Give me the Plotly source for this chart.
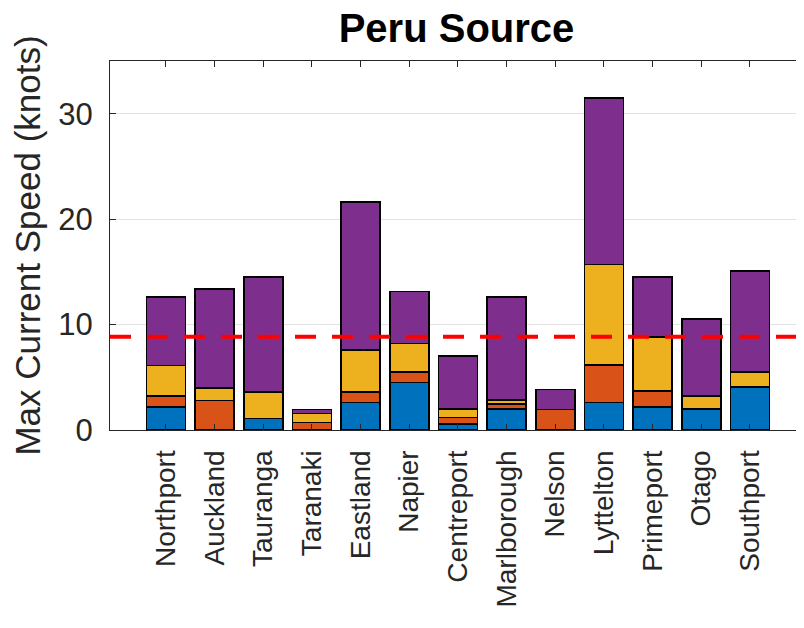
import plotly.graph_objects as go

ports = ["Northport", "Auckland", "Tauranga", "Taranaki", "Eastland", "Napier",
         "Centreport", "Marlborough", "Nelson", "Lyttelton", "Primeport", "Otago", "Southport"]
blue_vals   = [2.2, 0.0, 1.1, 0.0, 2.6, 4.5, 0.57, 2.0, 0.0, 2.6, 2.2, 2.0, 4.1]
orange_vals = [1.0, 2.8, 0.0, 0.7, 1.0, 1.0, 0.6, 0.45, 1.96, 3.55, 1.5, 0.0, 0.0]
yellow_vals = [2.9, 1.2, 2.5, 0.85, 4.0, 2.7, 0.85, 0.4, 0.0, 9.55, 5.15, 1.25, 1.4]
purple_vals = [6.5, 9.4, 10.9, 0.4, 14.0, 4.95, 5.0, 9.75, 1.9, 15.8, 5.65, 7.3, 9.6]
threshold = 8.85

series = [
    ("blue", blue_vals, "#0072BD"),
    ("orange", orange_vals, "#D95319"),
    ("yellow", yellow_vals, "#EDB120"),
    ("purple", purple_vals, "#7E2F8E"),
]

FONT = "Liberation Sans, Arial, Helvetica, sans-serif"
AX = "#262626"
W, H = 796, 620

fig = go.Figure()
for name, vals, color in series:
    fig.add_trace(go.Bar(
        x=ports, y=vals, name=name, width=0.8,
        marker=dict(color=color, line=dict(color="#000000", width=1.6)),
        showlegend=False,
    ))

fig.add_shape(type="line", xref="paper", yref="y", x0=0, x1=1,
              y0=threshold, y1=threshold,
              line=dict(color="#FF0000", width=4, dash="21px,16px"))

fig.update_layout(
    barmode="stack",
    width=W, height=H,
    margin=dict(l=102, r=1, t=53, b=198),
    paper_bgcolor="white", plot_bgcolor="white",
    font=dict(family=FONT, size=28, color=AX),
    title=dict(text="<b>Peru Source</b>", x=0.5, xref="paper",
               y=1 - 20 / H, yref="container", yanchor="middle", xanchor="center",
               font=dict(family=FONT, size=40, color="#000000")),
    xaxis=dict(
        type="category", categoryorder="array", categoryarray=ports,
        range=[-1.15, 13.09], tickangle=-90, automargin=False,
        ticks="inside", ticklen=6, tickwidth=1.2, tickcolor=AX,
        showline=True, linecolor=AX, linewidth=1.3, mirror="ticks",
        showgrid=False, tickfont=dict(size=28, color=AX),
        ticklabelstandoff=8,
    ),
    yaxis=dict(
        range=[0, 35], tickvals=[0, 10, 20, 30], automargin=False,
        ticks="inside", ticklen=6, tickwidth=1.2, tickcolor=AX,
        showline=True, linecolor=AX, linewidth=1.3, mirror="ticks",
        showgrid=True, gridcolor="#E3E3E3", gridwidth=1.2, zeroline=False,
        tickfont=dict(size=31, color=AX), ticklabelstandoff=10,
        title=dict(text="Max Current Speed (knots)", font=dict(size=35, color=AX),
                   standoff=7),
    ),
)

fig.write_html("out.html")
